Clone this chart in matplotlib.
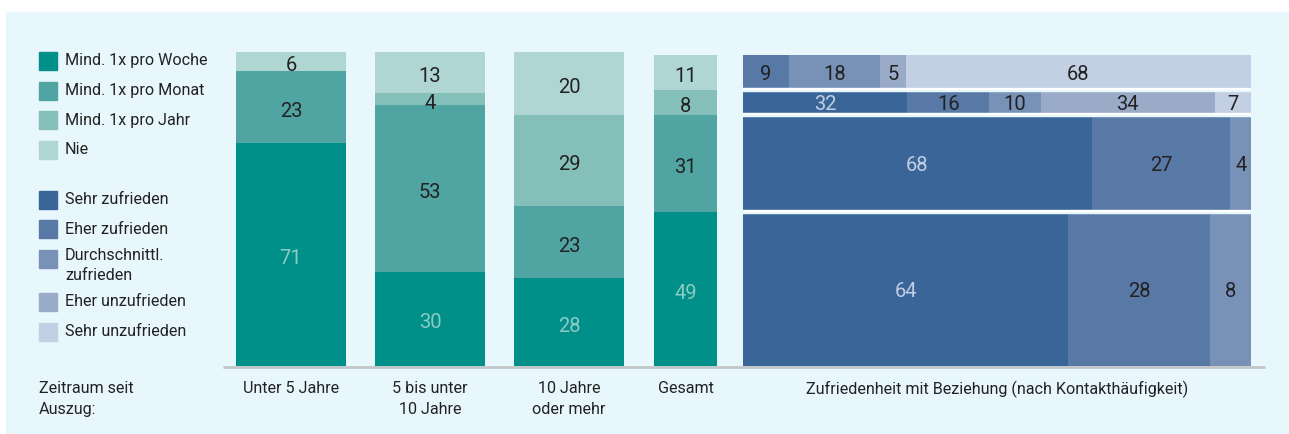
import matplotlib.pyplot as plt
from matplotlib.patches import Rectangle
import numpy as np

plt.rcParams['font.family'] = ['Roboto', 'DejaVu Sans']

# Kontakthäufigkeit nach Zeitraum seit Auszug (%)
groups = ['Unter 5 Jahre', '5 bis unter\n10 Jahre', '10 Jahre\noder mehr', 'Gesamt']
contact_labels = ['Mind. 1x pro Woche', 'Mind. 1x pro Monat', 'Mind. 1x pro Jahr', 'Nie']
woche = [71, 30, 28, 49]
monat = [23, 53, 23, 31]
jahr = [0, 4, 29, 8]
nie = [6, 13, 20, 11]

# Zufriedenheit mit Beziehung je Kontakthäufigkeit (%)
satis_labels = ['Sehr zufrieden', 'Eher zufrieden', 'Durchschnittl.\nzufrieden',
                'Eher unzufrieden', 'Sehr unzufrieden']
satis_woche = [64, 28, 8, 0, 0]
satis_monat = [68, 27, 4, 0, 0]
satis_jahr = [32, 16, 10, 34, 7]
satis_nie = [0, 9, 18, 5, 68]

teal = ['#008f89', '#50a5a3', '#84bfba', '#afd6d3']
blue = ['#3a6598', '#5878a6', '#7891b7', '#9aabc8', '#c3cfe2']
panel = '#e8f7fb'
dark = '#222222'
FS = 11.6
NFS = 14.5

W, H = 1289, 434
fig = plt.figure(figsize=(W / 100, H / 100), dpi=100)
fig.patch.set_facecolor('white')

# background axes in pixel coordinates
bg = fig.add_axes([0, 0, 1, 1])
bg.set_xlim(0, W)
bg.set_ylim(H, 0)
bg.axis('off')
bg.add_patch(Rectangle((6, 12), W, H, color=panel, zorder=0))
bg.plot([223, 1265], [366.5, 366.5], color='#c2c6c8', lw=2, zorder=1, solid_capstyle='butt')

# legend
leg_y = [61, 91, 120, 150]
for lab, c, y in zip(contact_labels, teal, leg_y):
    bg.add_patch(Rectangle((39, y - 9), 18, 18, color=c))
    bg.text(65, y, lab, fontsize=FS, color=dark, va='center', ha='left')
leg_y2 = [200, 229, 259, 302, 332]
for lab, c, y in zip(satis_labels, blue, leg_y2):
    bg.add_patch(Rectangle((39, y - 9), 18, 18, color=c))
    if '\n' in lab:
        bg.text(65, y - 11, lab, fontsize=FS, color=dark, va='top', ha='left', linespacing=1.45)
    else:
        bg.text(65, y, lab, fontsize=FS, color=dark, va='center', ha='left')

# bottom labels
bg.text(39, 381, 'Zeitraum seit\nAuszug:', fontsize=FS, color=dark, va='top', ha='left',
        linespacing=1.5)
centers = [291, 430, 569, 685.5]
widths = [110, 110, 110, 63]
for lab, x in zip(groups, centers):
    bg.text(x, 381, lab, fontsize=FS, color=dark, va='top', ha='center', linespacing=1.5)
bg.text(997, 381, 'Zufriedenheit mit Beziehung (nach Kontakthäufigkeit)', fontsize=FS,
        color=dark, va='top', ha='center')

# stacked bars
y0, y1 = 366, 52
ax = fig.add_axes([223 / W, (H - y0) / H, (730 - 223) / W, (y0 - y1) / H])
ax.set_xlim(223, 730)
ax.set_ylim(0, 100)
ax.axis('off')
ax.patch.set_alpha(0)

series = [woche, monat, jahr, nie]
bottom = np.zeros(len(groups))
for i, vals in enumerate(series):
    vals = np.array(vals, dtype=float)
    ax.bar(centers, vals, width=widths, bottom=bottom, color=teal[i], linewidth=0)
    for x, b, v in zip(centers, bottom, vals):
        if v > 0:
            col = '#8ccbc4' if i == 0 else dark
            ax.text(x, b + v / 2 - 1.3, f'{v:.0f}', ha='center', va='center',
                    fontsize=NFS, color=col)
    bottom += vals

# mosaic: row heights from Gesamt shares, each row spread over full width
ax2 = fig.add_axes([743 / W, (H - y0) / H, (1251 - 743) / W, (y0 - y1) / H])
ax2.set_xlim(0, 1)
ax2.set_ylim(0, 100)
ax2.axis('off')
ax2.patch.set_alpha(0)

rows = [satis_woche, satis_monat, satis_jahr, satis_nie]
shares = [woche[3], monat[3], jahr[3], nie[3]]
rb = 0
for r, (vals, h) in enumerate(zip(rows, shares)):
    tot = float(sum(vals))
    left = 0
    for j, v in enumerate(vals):
        if v > 0:
            w = v / tot
            ax2.barh(rb + h / 2, w, height=h, left=left, color=blue[j], linewidth=0)
            col = '#c3cfe2' if j == 0 else dark
            ax2.text(left + w / 2, rb + h / 2 - 0.8, str(v), ha='center', va='center',
                     fontsize=NFS, color=col)
            left += w
    if r > 0:
        ax2.axhline(rb, color=panel, lw=3.2)
        ax2.axhline(rb + 0.3, color='white', lw=1.4)
    rb += h

fig.savefig('out.png', dpi=100, facecolor=fig.get_facecolor())
